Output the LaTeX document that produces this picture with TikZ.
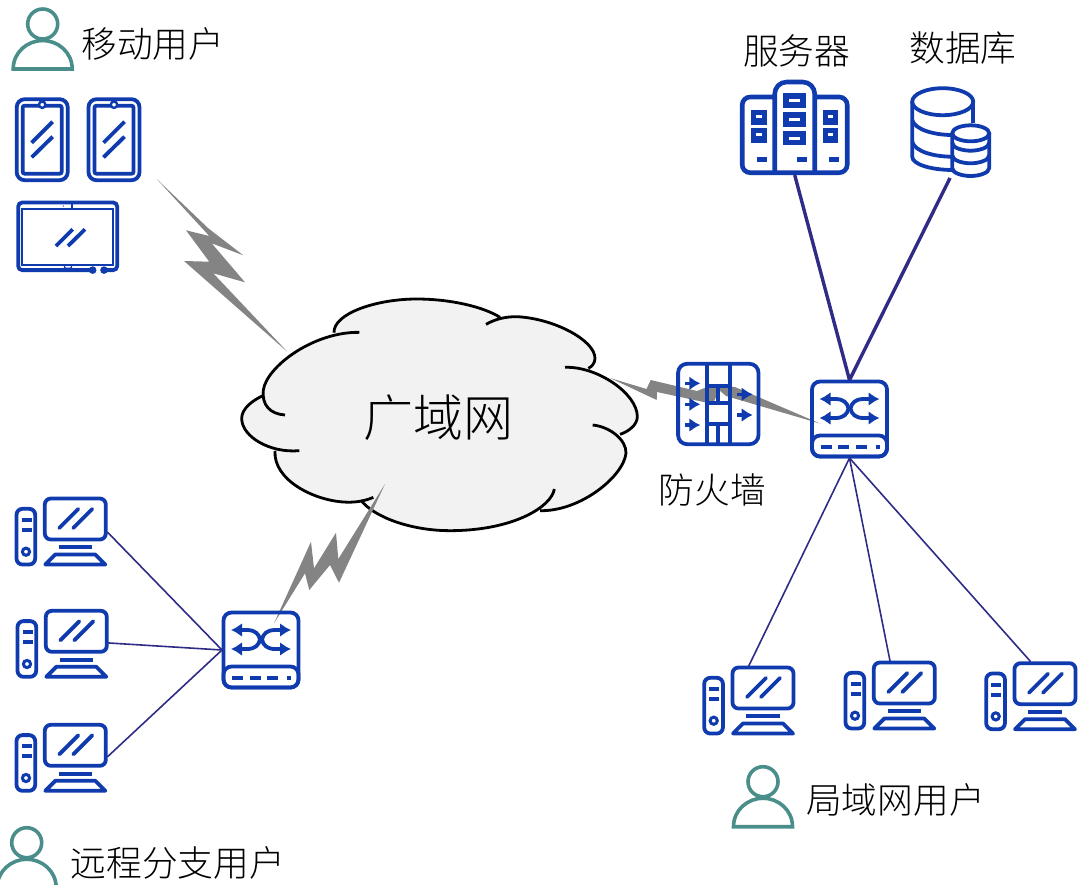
\documentclass[tikz,border=0pt]{standalone}
\usepackage{fontspec}
\usepackage{tikz}
\usetikzlibrary{arrows.meta}
\newfontfamily\cjk{Noto Sans CJK SC Light}
\definecolor{iconblue}{HTML}{0F3BAE}
\definecolor{linknavy}{HTML}{2E2C86}
\definecolor{userteal}{HTML}{4A8E8B}
\definecolor{boltgray}{HTML}{848484}
\definecolor{cloudfill}{HTML}{F2F2F2}
\newcommand{\wanpath}[1]{(312,128) .. controls (310,70) and (440,27) .. (560,27) .. controls (660,27) and (760,50) .. (810,82) #1
  (768,103) .. controls (800,85) and (830,80) .. (860,80) .. controls (970,85) and (1095,150) .. (1095,205) .. controls (1095,220) and (1085,230) .. (1075,235) #1
  (1005,232) .. controls (1100,228) and (1222,310) .. (1222,380) .. controls (1222,405) and (1195,425) .. (1170,433) #1
  (1088,405) .. controls (1140,410) and (1190,450) .. (1188,490) .. controls (1180,560) and (1050,665) .. (930,662) #1
  (973,597) .. controls (965,650) and (850,722) .. (660,722) .. controls (540,722) and (430,680) .. (392,630) #1
  (430,622) .. controls (400,635) and (370,638) .. (340,636) .. controls (250,630) and (130,570) .. (135,483) #1
  (208,482) .. controls (120,490) and (35,440) .. (35,385) .. controls (35,355) and (70,330) .. (97,318) #1
  (165,375) .. controls (120,372) and (95,345) .. (100,300) .. controls (110,230) and (250,125) .. (388,127)}
\tikzset{
  ln/.style={draw=iconblue, line width=3.8pt},
  box/.style 2 args={minimum width=#1, minimum height=#2, inner sep=0pt, outer sep=0pt},
  lab/.style={font=\cjk\fontsize{35.7pt}{36pt}\selectfont},
  wanlab/.style={font=\cjk\fontsize{50pt}{50pt}\selectfont},
  bolt/.style={fill=boltgray},
  widelink/.style={draw=linknavy, line width=3.4pt},
  thinlink/.style={draw=linknavy, line width=1.6pt},
  tip/.style={-{Latex[length=11pt,width=14pt]}, draw=iconblue, line width=3.6pt},
  twotip/.style={{Latex[length=11pt,width=14pt]}-{Latex[length=11pt,width=14pt]}, draw=iconblue, line width=3.8pt},
  usericon/.pic={
    \draw[draw=userteal, line width=3.6pt] (0,-20) circle[radius=15pt];
    \draw[draw=userteal, line width=3.6pt] (-29.5,25) .. controls (-29.5,8) and (-15,-3.5) .. (0,-3.5)
      .. controls (15,-3.5) and (29.5,8) .. (29.5,25) -- cycle;
  },
  phoneicon/.pic={
    \draw[ln, rounded corners=8pt] (-25.5,-40.5) rectangle (25.5,40.5);
    \draw[ln, rounded corners=2pt] (-19.5,-34) rectangle (19.5,34);
    \draw[ln, line width=2.4pt, fill=white] (0,-35) circle[radius=3.2pt];
    \draw[ln] (-10.5,3) -- (10.5,-18);
    \draw[ln] (-10.5,17.6) -- (10.5,-3);
  },
  tableticon/.pic={
    \draw[ln, rounded corners=4pt] (25,33.8) -- (-49.5,33.8) -- (-49.5,-33.8) -- (49.5,-33.8) -- (49.5,33.8) -- (36.3,33.8);
    \fill[iconblue] (25,33.8) circle[radius=3.8pt] (36.3,33.8) circle[radius=3.8pt];
    \draw[ln, line width=1.8pt] (-45.7,-27) rectangle (45.6,28.7);
    \fill[iconblue] (2.8,-32.3) rectangle (5.2,-28.3);
    \fill[iconblue] (-4.4,-30.3) circle[radius=0.7pt];
    \draw[ln, line width=1.2pt, rounded corners=1pt] (-3.2,28.8) rectangle (3.8,32);
    \draw[ln] (-11.7,9.7) -- (5,-7);
    \draw[ln] (0.3,9.7) -- (17.3,-7);
  },
  pcicon/.pic={
    \draw[ln, rounded corners=6pt] (-30.5,-20.5) rectangle (30.5,20.5);
    \draw[ln, line cap=round] (-16,9) -- (3,-10);
    \draw[ln, line cap=round] (-2,9) -- (17,-10);
    \draw[ln] (-16.7,28.3) -- (16.7,28.3);
    \draw[ln, line join=round] (-30,45.5) -- (-20,35.5) -- (20,35.5) -- (30,45.5) -- cycle;
    \draw[ln, rounded corners=6pt] (-58.8,-10.2) rectangle (-40.1,45.5);
    \draw[ln] (-53.6,1) -- (-43.6,1);
    \draw[ln] (-53.6,11) -- (-43.6,11);
    \draw[ln, line width=3pt] (-49.3,32.7) circle[radius=3.6pt];
  },
  switchicon/.pic={
    \draw[ln, rounded corners=8pt] (-37.5,-37.5) rectangle (37.5,37.5);
    \draw[ln, rounded corners=8pt] (-37.5,16.5) rectangle (37.5,37.5);
    \draw[twotip] (-30,-20) -- (-14,-20) .. controls (-6,-20) and (-2,-16) .. (-1,-10.5) .. controls (-2,-5) and (-6,-1) .. (-14,-1) -- (-30,-1);
    \draw[twotip] (30,-20) -- (14,-20) .. controls (6,-20) and (2,-16) .. (1,-10.5) .. controls (2,-5) and (6,-1) .. (14,-1) -- (30,-1);
    \foreach \dashx in {-28.8,-11.2,6.2}
      \draw[ln, line width=4.4pt] (\dashx,28) -- ++(11,0);
    \fill[iconblue] (26,25.8) rectangle (30.4,30.2);
  },
  firewallicon/.pic={
    \draw[ln, rounded corners=9pt] (-40.2,-40.2) rectangle (40.2,40.2);
    \draw[ln, line width=4.2pt] (-11.7,-40) -- (-11.7,40);
    \draw[ln, line width=4.2pt] (11.7,-40) -- (11.7,40);
    \foreach \brick in {-18.3,-0.7,20.3}
      \draw[ln] (-11.7,\brick) -- (11.7,\brick);
    \draw[ln] (0,-18.3) -- (0,-0.7);
    \draw[ln] (0,20.3) -- (0,40);
    \foreach \arry in {-20.7,0.3,21}
      \draw[tip] (-33.3,\arry) -- (-18,\arry);
    \foreach \arry in {-9.7,11}
      \draw[tip] (19,\arry) -- (34.4,\arry);
  },
  servericon/.pic={
    \draw[ln, line width=4.6pt, rounded corners=8pt] (-20,-30.5) -- (-52.5,-30.5) -- (-52.5,45.2) -- (52.5,45.2) -- (52.5,-30.5) -- (20,-30.5);
    \draw[ln, line width=4.6pt, rounded corners=12pt] (-20,45.2) -- (-20,-45.5) -- (20,-45.5) -- (20,45.2);
    \foreach \blocky/\blockh in {-34.2/-19.2,-15.2/-0.8,3.5/17.8} {
      \fill[iconblue] (-11.7,\blocky) rectangle (11.7,\blockh);
      \fill[white] (-5.5,\blocky+5.7) rectangle (5.5,\blocky+9);
    }
    \foreach \blockx in {-43.7,28} \foreach \blocky/\blockh in {-17.5/-2.5,0.8/15.2} {
      \fill[iconblue] (\blockx,\blocky) rectangle (\blockx+15.6,\blockh);
      \fill[white] (\blockx+5,\blocky+4.5) rectangle (\blockx+10.6,\blocky+7.5);
    }
    \foreach \slotx in {-37.4,2.6,34.6}
      \fill[iconblue] (\slotx,29.3) rectangle (\slotx+10,34.3);
  },
  dbicon/.pic={
    \draw[ln] (-7.3,-28.3) ellipse[x radius=30.5pt, y radius=13.5pt];
    \draw[ln] (-37.8,-28.3) -- (-37.8,26.7) .. controls (-37.8,34) and (-20,40) .. (3.3,40);
    \draw[ln] (23.2,-28.3) -- (23.2,-6.7);
    \draw[ln] (-37.8,-10) .. controls (-35,0) and (-15,5) .. (2,5);
    \draw[ln] (-37.8,11.7) .. controls (-35,22) and (-15,26.7) .. (2,26.7);
    \draw[ln] (20.7,3.3) ellipse[x radius=18.5pt, y radius=8pt];
    \draw[ln] (2.2,3.3) -- (2.2,38) .. controls (2.2,43) and (12,46) .. (20.7,46) .. controls (29,46) and (39.2,43) .. (39.2,38) -- (39.2,3.3);
    \draw[ln] (2.2,12.7) .. controls (2.2,17.7) and (12,20.7) .. (20.7,20.7) .. controls (29,20.7) and (39.2,17.7) .. (39.2,12.7);
    \draw[ln] (2.2,25.3) .. controls (2.2,30.3) and (12,33.3) .. (20.7,33.3) .. controls (29,33.3) and (39.2,30.3) .. (39.2,25.3);
  },
}
\begin{document}
\begin{tikzpicture}[x=1pt, y=-1pt]
\useasboundingbox (0,0) rectangle (1086,884);

\begin{scope}[shift={(230,290)}, xscale=1/3, yscale=1/3]
  \fill[cloudfill] \wanpath{--} -- cycle;
  \draw[black, line width=2.8pt] \wanpath{};
\end{scope}
\node (wan) [wanlab] at (438,418) {广域网};

\fill[bolt] (156.7,179) -- (208.3,228.3) -- (243.3,255.3) -- (211.7,243.3) -- (245,282.3) -- (213.3,273.3)
  -- (287.3,351.7) -- (184,261) -- (209.3,261.7) -- (186,230.3) -- (209.3,236) -- cycle;
\fill[bolt] (385,484) -- (338.3,559) -- (336,532.7) -- (314,568.3) -- (311,541.7) -- (274,623.3)
  -- (305,573.3) -- (309.3,590) -- (330,565) -- (339,582.7) -- cycle;
\fill[bolt] (610,378) -- (646.5,389) -- (650.7,380) -- (697,391) -- (712,385) -- (735,387) -- (820,423.5)
  -- (726,396) -- (719,390) -- (713,404) -- (657,392) -- (656.7,400) -- cycle;

\foreach \name/\posx/\posy in {phoneA/42.2/139.7, phoneB/114/139.7} {
  \node (\name) [box={54pt}{84pt}] at (\posx,\posy) {};
  \pic at (\name) {phoneicon};
}
\node (tablet) [box={102pt}{71pt}] at (67.7,236.3) {};
\pic at (tablet) {tableticon};

\foreach \name/\posx/\posy in {pcA/75.3/519, pcB/76.3/631.3, pcC/75.3/745.3, pcD/763/688, pcE/904.3/683, pcF/1045/683.7} {
  \node (\name) [box={64pt}{44pt}] at (\posx,\posy) {};
  \pic at (\name) {pcicon};
}
\foreach \name/\posx/\posy in {swL/261/650, swR/849.5/419} {
  \node (\name) [box={78pt}{78pt}] at (\posx,\posy) {};
  \pic at (\name) {switchicon};
}
\node (fw) [box={83pt}{83pt}] at (718.3,404) {};
\pic at (fw) {firewallicon};
\node (srv) [box={109pt}{95pt}] at (794.7,127.5) {};
\pic at (srv) {servericon};
\node (db) [box={78pt}{96pt}] at (950,130) {};
\pic at (db) {dbicon};

\draw[widelink] (srv.south) to (swR.north);
\draw[widelink] (db.south) to (swR.north);
\draw[thinlink] (swR.south) to (pcD.123);
\draw[thinlink] (swR.south) to (pcE.123);
\draw[thinlink] (swR.south) to (pcF.123);
\draw[thinlink] (pcA.-22) to (swL.west);
\draw[thinlink] (pcB.-20) to (swL.west);
\draw[thinlink] (pcC.-20) to (swL.west);

\foreach \name/\posx/\posy in {userM/42.7/44, userL/763/801.7, userR/26.7/862.7} {
  \node (\name) [box={60pt}{60pt}] at (\posx,\posy) {};
  \pic at (\name) {usericon};
}
\node (mobile) [lab, right of=userM, node distance=110pt] {移动用户};
\node (lan) [lab, right of=userL, node distance=132.5pt, yshift=2pt] {局域网用户};
\node (branch) [lab, right of=userR, node distance=151pt] {远程分支用户};
\node (fwlab) [lab, below of=fw, node distance=86pt, xshift=-6pt] {防火墙};
\node (srvlab) [lab, above of=srv, node distance=77pt, xshift=2pt] {服务器};
\node (dblab) [lab, above of=db, node distance=82pt, xshift=13pt] {数据库};

\end{tikzpicture}
\end{document}
